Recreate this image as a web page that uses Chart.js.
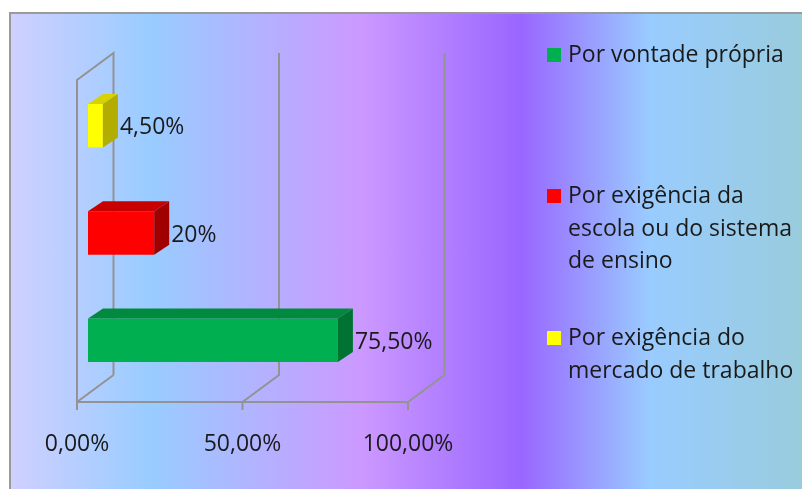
<!DOCTYPE html>
<html><head><meta charset="utf-8">
<script src="https://cdn.jsdelivr.net/npm/chart.js@4.4.0/dist/chart.umd.min.js"></script>
<style>
html,body{margin:0;padding:0;background:#fff;width:802px;height:489px;overflow:hidden;font-family:"Open Sans",sans-serif;}
#panel{position:absolute;left:9px;top:12px;width:793px;height:477px;box-sizing:border-box;border-top:2px solid #9a9a9a;border-left:2px solid #9a9a9a;
background:linear-gradient(to right,#cfd0ff 0%,#99ccff 17.8%,#cc99ff 44.3%,#9966ff 64.4%,#99ccff 80.8%,#99ccdd 100%);}
canvas{position:absolute;left:0;top:0;}
.leg{position:absolute;left:568px;font-size:23px;line-height:32.5px;color:#1a1a1a;white-space:pre;}
.sw{position:absolute;left:547px;width:14px;height:14px;}
</style></head>
<body>
<div id="panel"></div>
<canvas id="c" width="802" height="489"></canvas>
<div id="legend"></div>
<script>
// ---- data ----
const categories = ["Por exigência do mercado de trabalho", "Por exigência da escola ou do sistema de ensino", "Por vontade própria"];
const values = [4.5, 20, 75.5];
const valueLabels = ["4,50%", "20%", "75,50%"];
const tickValues = [0, 50, 100];
const tickLabels = ["0,00%", "50,00%", "100,00%"];
const legendOrder = [2, 1, 0];
const legendTexts = ["Por vontade própria", "Por exigência da\nescola ou do sistema\nde ensino", "Por exigência do\nmercado de trabalho"];
// ---- styles ----
const frontColors = ["#ffff00", "#ff0000", "#00b050"];
const topColors = ["#d6d300", "#c80000", "#008a3e"];
const sideColors = ["#b2ad00", "#a00000", "#007333"];

const DX = 15, DY = -10;
const FONT = '"Open Sans", sans-serif';

const frame3d = {
  id: 'frame3d',
  beforeDatasetsDraw(chart) {
    const {ctx, chartArea: a, scales: {x}} = chart;
    const fy = a.bottom + 8, by = a.bottom - 19, fty = a.top + 8, bty = a.top - 19;
    const fx = v => x.getPixelForValue(v) - 11;
    const bx = v => x.getPixelForValue(v) + 25.5;
    ctx.save();
    ctx.strokeStyle = '#939393';
    ctx.lineWidth = 2;
    ctx.beginPath();
    ctx.moveTo(fx(0), fy); ctx.lineTo(fx(0), fty); ctx.lineTo(bx(0), bty); ctx.lineTo(bx(0), by);
    ctx.moveTo(fx(tickValues[0]), fy); ctx.lineTo(fx(tickValues[tickValues.length - 1]), fy);
    tickValues.forEach(v => {
      ctx.moveTo(fx(v), fy + 8); ctx.lineTo(fx(v), fy); ctx.lineTo(bx(v), by);
      if (v !== 0) { ctx.lineTo(bx(v), bty); }
    });
    ctx.stroke();
    ctx.restore();
  },
  afterDatasetsDraw(chart) {
    const {ctx} = chart;
    const meta = chart.getDatasetMeta(0);
    ctx.save();
    meta.data.forEach((el, i) => {
      const top = el.y - el.height / 2, bot = el.y + el.height / 2;
      ctx.fillStyle = topColors[i];
      ctx.beginPath();
      ctx.moveTo(el.base, top); ctx.lineTo(el.x, top); ctx.lineTo(el.x + DX, top + DY); ctx.lineTo(el.base + DX, top + DY);
      ctx.closePath(); ctx.fill();
      ctx.fillStyle = sideColors[i];
      ctx.beginPath();
      ctx.moveTo(el.x, top); ctx.lineTo(el.x + DX, top + DY); ctx.lineTo(el.x + DX, bot + DY); ctx.lineTo(el.x, bot);
      ctx.closePath(); ctx.fill();
      ctx.fillStyle = '#1a1a1a';
      ctx.font = '23px ' + FONT;
      ctx.textBaseline = 'middle';
      ctx.textAlign = 'left';
      ctx.fillText(valueLabels[i], el.x + DX + 2, el.y + 2);
    });
    ctx.restore();
  }
};

new Chart(document.getElementById('c'), {
  type: 'bar',
  data: {
    labels: categories,
    datasets: [{data: values, backgroundColor: frontColors, borderWidth: 0, categoryPercentage: 1, barPercentage: 0.405}]
  },
  options: {
    indexAxis: 'y',
    responsive: false,
    devicePixelRatio: 1,
    animation: false,
    events: [],
    layout: {padding: {left: 88, right: 383, top: 72, bottom: 0}},
    plugins: {legend: {display: false}, tooltip: {enabled: false}},
    scales: {
      y: {display: false},
      x: {
        min: 0, max: 100,
        grid: {display: false, drawTicks: false},
        border: {display: false},
        afterFit: s => { s.height = 95; },
        afterBuildTicks: s => { s.ticks = tickValues.map(v => ({value: v})); },
        ticks: {
          callback: v => tickLabels[tickValues.indexOf(v)],
          font: {family: FONT, size: 23},
          color: '#1a1a1a',
          padding: 37,
          labelOffset: -11,
          maxRotation: 0
        }
      }
    }
  },
  plugins: [frame3d]
});

// legend (HTML)
const legendTops = [37, 178, 320];
const lg = document.getElementById('legend');
legendOrder.forEach((idx, k) => {
  const sw = document.createElement('div');
  sw.className = 'sw';
  sw.style.top = (legendTops[k] + 11) + 'px';
  sw.style.background = frontColors[idx];
  lg.appendChild(sw);
  const t = document.createElement('div');
  t.className = 'leg';
  t.style.top = legendTops[k] + 'px';
  t.textContent = legendTexts[k];
  lg.appendChild(t);
});
</script>
</body></html>
